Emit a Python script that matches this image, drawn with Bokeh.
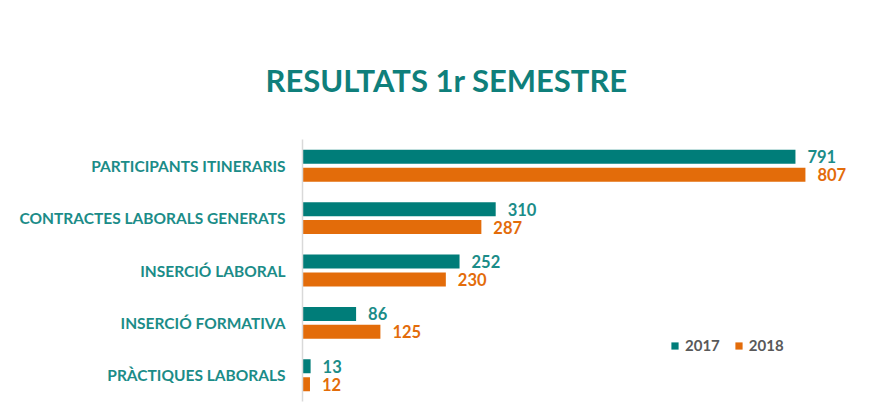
from bokeh.plotting import figure
from bokeh.models import ColumnDataSource, FactorRange, Range1d, Legend, LegendItem, Title
from bokeh.transform import dodge
from bokeh.core.properties import value
from bokeh.embed import file_html
from bokeh.resources import INLINE

categories = ["PARTICIPANTS ITINERARIS", "CONTRACTES LABORALS GENERATS",
              "INSERCIÓ LABORAL", "INSERCIÓ FORMATIVA", "PRÀCTIQUES LABORALS"]
values_2017 = [791, 310, 252, 86, 13]
values_2018 = [807, 287, 230, 125, 12]
series_names = ["2017", "2018"]

TEAL = "#007d79"
ORANGE = "#e36c0a"
LABEL_TEAL = "#1b8c88"
FONT = "Lato"

cats_bottom_up = list(reversed(categories))
src = ColumnDataSource(dict(
    cat=categories,
    v17=values_2017,
    v18=values_2018,
    t17=[str(v) for v in values_2017],
    t18=[str(v) for v in values_2018],
))

p = figure(width=866, height=409, output_backend="svg", toolbar_location=None,
           y_range=FactorRange(factors=cats_bottom_up, range_padding=0),
           x_range=Range1d(0, 905))
p.min_border_left = 302
p.min_border_right = 0
p.min_border_top = 139
p.min_border_bottom = 8
p.outline_line_color = None
p.background_fill_color = "white"
p.border_fill_color = "white"
p.xgrid.visible = False
p.ygrid.visible = False
p.xaxis.visible = False

ax = p.yaxis[0]
ax.axis_line_color = "#d9d9d9"
ax.axis_line_width = 1.5
ax.major_tick_line_color = None
ax.minor_tick_line_color = None
ax.major_label_standoff = 11
ax.major_label_text_font = FONT
ax.major_label_text_font_style = "bold"
ax.major_label_text_font_size = "15.5px"
ax.major_label_text_color = LABEL_TEAL

off = 0.171
bh = 0.267
r17 = p.hbar(y=dodge("cat", off, range=p.y_range), right="v17", left=0, height=bh,
             source=src, fill_color=TEAL, line_color=None)
r18 = p.hbar(y=dodge("cat", -off, range=p.y_range), right="v18", left=0, height=bh,
             source=src, fill_color=ORANGE, line_color=None)

p.text(x="v17", y=dodge("cat", off, range=p.y_range), text="t17", source=src,
       x_offset=12, text_baseline="middle", text_align="left",
       text_font=value(FONT), text_font_style="bold", text_font_size="16.5px",
       text_color=LABEL_TEAL)
p.text(x="v18", y=dodge("cat", -off, range=p.y_range), text="t18", source=src,
       x_offset=12, text_baseline="middle", text_align="left",
       text_font=value(FONT), text_font_style="bold", text_font_size="16.5px",
       text_color=ORANGE)

legend = Legend(items=[LegendItem(label=series_names[0], renderers=[r17]),
                       LegendItem(label=series_names[1], renderers=[r18])],
                orientation="horizontal", location=(368, 47),
                glyph_width=9, glyph_height=9, label_standoff=6, spacing=14,
                padding=4, border_line_color=None, background_fill_alpha=0,
                label_text_font=FONT, label_text_font_style="bold",
                label_text_font_size="15px", label_text_color="#595959")
p.add_layout(legend, "center")

title = Title(text="RESULTATS 1r SEMESTRE", align="left", offset=-37,
              standoff=82, text_font=FONT, text_font_style="bold",
              text_font_size="31px", text_color="#0f7f7b")
p.add_layout(title, "above")

open("out.html", "w").write(file_html(p, INLINE))
